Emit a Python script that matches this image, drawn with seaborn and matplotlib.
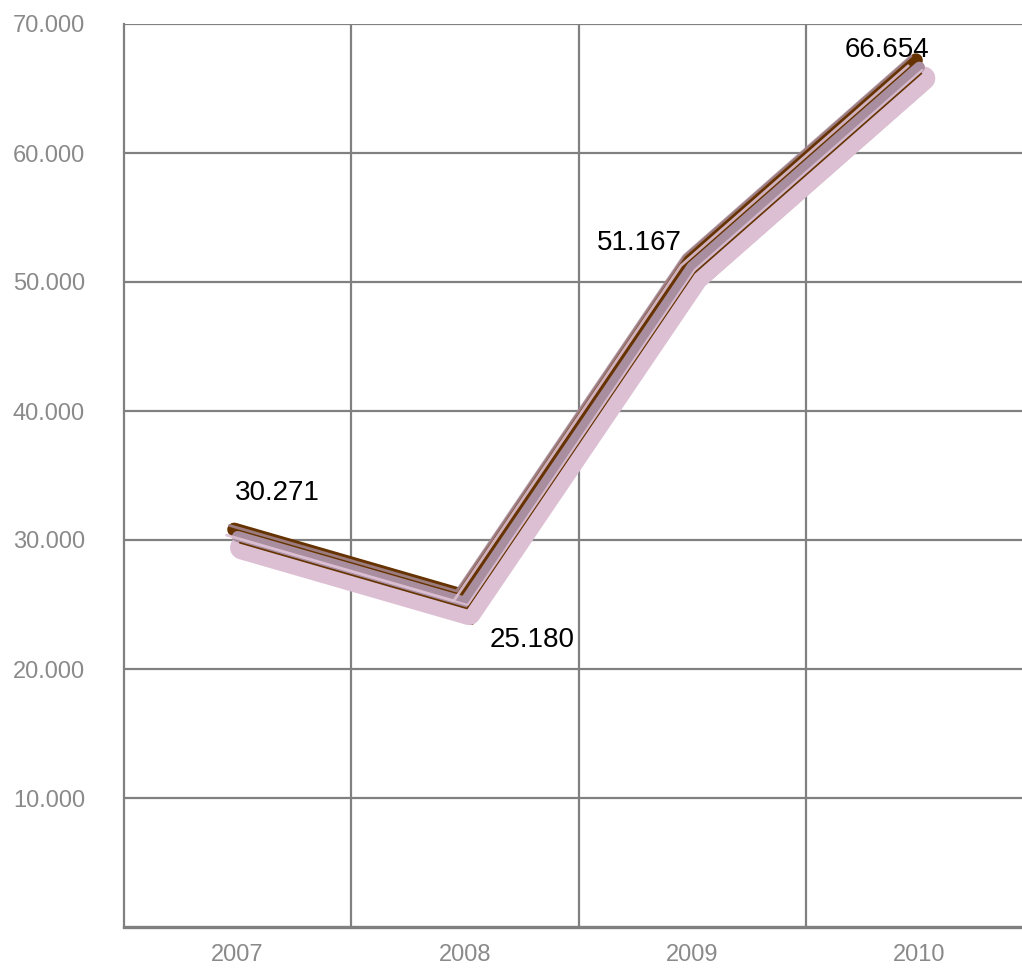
import numpy as np
import pandas as pd
import seaborn as sns
import matplotlib.pyplot as plt
from matplotlib.transforms import ScaledTranslation
from matplotlib.ticker import FuncFormatter

# data
years = ['2007', '2008', '2009', '2010']
values = [30271, 25180, 51167, 66654]
y_ticks = [10000, 20000, 30000, 40000, 50000, 60000, 70000]

df = pd.DataFrame({'Year': years, 'Value': values})

sns.set_style('white')
plt.rcParams['font.family'] = ['Liberation Sans', 'DejaVu Sans']

fig = plt.figure(figsize=(10.22, 9.71), dpi=100)
ax = fig.add_axes([124/1022, 44/971, 909/1022, 903/971])

# brush-like look: the same series drawn several times, shifted a little
# (colour, width, dx pt, dy pt, alpha)
strokes = [
    ('#663300', 3, 5.0, -15.0, 1.0),
    ('#DCBFD3', 17, 3.0, -8.0, 1.0),
    ('#663300', 10, -2.5, 5.0, 1.0),
    ('#A98E9F', 8, 0.0, 0.0, 1.0),
    ('#663300', 1.2, 1.5, -4.5, 1.0),
    ('#A98E9F', 2, -6.0, 8.0, 0.8),
    ('#DCBFD3', 1.5, 2.0, -2.0, 0.9),
    ('#DCBFD3', 2, -8.0, 1.0, 0.9),
]
for col, lw, dx, dy, a in strokes:
    sns.lineplot(data=df, x='Year', y='Value', color=col, linewidth=lw,
                 alpha=a, ax=ax, solid_capstyle='round', solid_joinstyle='round')
    ax.lines[-1].set_transform(ax.transData + ScaledTranslation(dx/72, dy/72, fig.dpi_scale_trans))

# value labels
offsets = [(40, 44), (67, -38), (-53, 24), (-32, 17)]
for i, v in enumerate(values):
    txt = '{:,}'.format(v).replace(',', '.')
    ax.annotate(txt, (i, v), xytext=offsets[i], textcoords='offset pixels',
                ha='center', va='center', fontsize=20, color='black')

ax.set_xlim(-0.5, 3.5)
ax.set_ylim(0, 70000)
ax.set_yticks(y_ticks)
ax.yaxis.set_major_formatter(FuncFormatter(lambda v, p: '{:,}'.format(int(v)).replace(',', '.')))
ax.set_xticks(range(len(years)))
ax.set_xticklabels(years)
ax.set_xticks([0.5, 1.5, 2.5], minor=True)

ax.grid(False)
ax.yaxis.grid(True, color='#808080', linewidth=1.6)
ax.xaxis.grid(True, which='minor', color='#808080', linewidth=1.6)
ax.set_axisbelow(True)

ax.tick_params(axis='both', which='both', length=0, labelsize=17, labelcolor='#8A8A8A')
ax.tick_params(axis='y', pad=28)
ax.tick_params(axis='x', pad=12)

for s in ['top', 'right']:
    ax.spines[s].set_visible(False)
ax.spines['left'].set_color('#808080')
ax.spines['left'].set_linewidth(1.6)
ax.spines['bottom'].set_color('#808080')
ax.spines['bottom'].set_linewidth(2.4)

ax.set_xlabel('')
ax.set_ylabel('')

fig.savefig('out.png', dpi=100)
